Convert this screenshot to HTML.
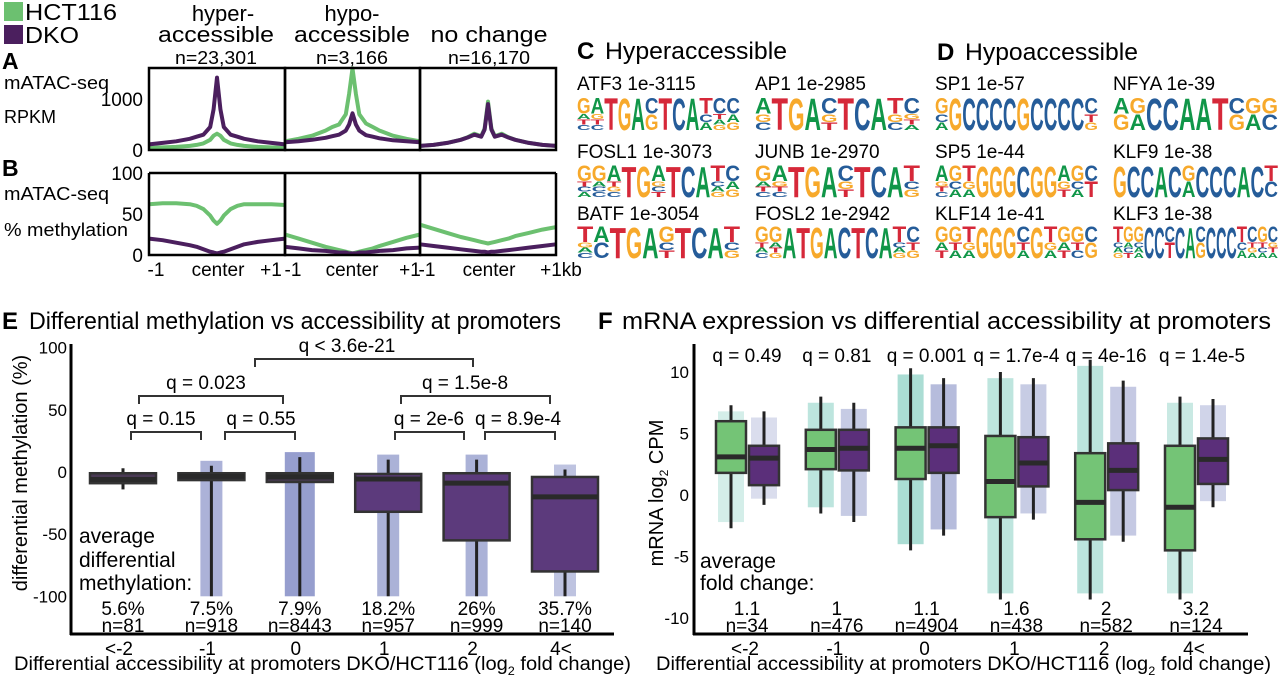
<!DOCTYPE html>
<html><head><meta charset="utf-8"><style>
html,body{margin:0;padding:0;background:#fff;}
svg{display:block;font-family:"Liberation Sans",Arial,sans-serif;}
</style></head><body>
<svg id="fig" width="1280" height="684" viewBox="0 0 1280 684" xmlns="http://www.w3.org/2000/svg">
<g id="static">
  <rect x="4" y="2" width="19" height="19" fill="#6cc070"/>
  <text x="25" y="20" font-size="23" textLength="92" lengthAdjust="spacingAndGlyphs">HCT116</text>
  <rect x="4" y="25" width="19" height="19" fill="#4b1f5e"/>
  <text x="25" y="43" font-size="23" textLength="54" lengthAdjust="spacingAndGlyphs">DKO</text>
  <g font-size="22" text-anchor="middle">
    <text x="223" y="21">hyper-</text>
    <text x="216" y="42" textLength="116" lengthAdjust="spacingAndGlyphs">accessible</text>
    <text x="352" y="21">hypo-</text>
    <text x="352" y="42" textLength="116" lengthAdjust="spacingAndGlyphs">accessible</text>
    <text x="489" y="42" textLength="117" lengthAdjust="spacingAndGlyphs">no change</text>
    <text x="216" y="64" font-size="18" textLength="82" lengthAdjust="spacingAndGlyphs">n=23,301</text>
    <text x="352" y="64" font-size="18" textLength="72" lengthAdjust="spacingAndGlyphs">n=3,166</text>
    <text x="489" y="64" font-size="18" textLength="82" lengthAdjust="spacingAndGlyphs">n=16,170</text>
  </g>
  <text x="2" y="69" font-size="23" font-weight="bold">A</text>
  <text x="4" y="89" font-size="18" textLength="105" lengthAdjust="spacingAndGlyphs">mATAC-seq</text>
  <text x="4" y="123" font-size="18">RPKM</text>
  <text x="2" y="176" font-size="23" font-weight="bold">B</text>
  <text x="4" y="200" font-size="18" textLength="105" lengthAdjust="spacingAndGlyphs">mATAC-seq</text>
  <text x="4" y="236" font-size="18" textLength="124" lengthAdjust="spacingAndGlyphs">% methylation</text>

  <text x="577" y="59" font-size="24" font-weight="bold">C</text>
  <text x="605" y="59" font-size="24" textLength="182" lengthAdjust="spacingAndGlyphs">Hyperaccessible</text>
  <text x="937" y="60" font-size="24" font-weight="bold">D</text>
  <text x="965" y="60" font-size="24" textLength="173" lengthAdjust="spacingAndGlyphs">Hypoaccessible</text>

  <text x="2" y="329" font-size="24" font-weight="bold">E</text>
  <text x="29" y="329" font-size="24" textLength="532" lengthAdjust="spacingAndGlyphs">Differential methylation vs accessibility at promoters</text>
  <text x="598" y="329" font-size="24" font-weight="bold">F</text>
  <text x="622" y="329" font-size="24" textLength="649" lengthAdjust="spacingAndGlyphs">mRNA expression vs differential accessibility at promoters</text>
</g>
<g id="dyn"></g>
</svg>
<script>
// ---------- Panels A/B profile data ----------
const profX = [-1,-0.8,-0.6,-0.4,-0.3,-0.2,-0.1,-0.05,0,0.05,0.1,0.2,0.3,0.4,0.6,0.8,1];
const rpkmHyperDKO = [110,140,170,220,260,300,450,800,1420,800,450,300,260,220,170,140,110];
const rpkmHyperHCT = [40,50,60,80,100,130,200,280,320,280,200,130,100,80,60,50,40];
const rpkmHypoHCT  = [170,220,280,380,450,500,700,1100,1600,1100,700,520,450,380,280,220,170];
const rpkmHypoDKO  = [150,170,200,240,270,300,380,500,720,500,380,290,260,230,190,170,150];
const rpkmNoHCT    = [80,100,140,200,250,320,270,420,950,420,270,320,250,200,140,100,80];
const rpkmNoDKO    = [80,100,140,200,245,300,260,400,900,400,260,300,245,200,140,100,80];
const methHyperHCT = [62,63,63,62,60,56,48,42,38,42,48,56,60,62,62,62,61];
const methHyperDKO = [20,18,15,12,10,7,4,3,2,3,4,7,10,13,16,18,20];
const methHypoHCT  = [25,20,15,10,8,6,4,3,2,3,4,6,8,11,16,21,25];
const methHypoDKO  = [10,8,6,5,4,3,3,2,2,2,3,3,4,5,6,8,9];
const methNoHCT    = [37,32,27,22,20,18,16,15,14,15,16,18,20,23,27,31,34];
const methNoDKO    = [13,11,9,7,6,5,4,4,3,4,4,5,6,7,9,11,13];
const rpkmTicks = [0,1000];
const methTicks = [0,50,100];

// ---------- Panel C/D motifs ----------
const motifNames = ["ATF3 1e-3115","AP1 1e-2985","FOSL1 1e-3073","JUNB 1e-2970","BATF 1e-3054","FOSL2 1e-2942",
                    "SP1 1e-57","NFYA 1e-39","SP5 1e-44","KLF9 1e-38","KLF14 1e-41","KLF3 1e-38"];
const motifCols = [
 ["GATC","AGTC","T","G","A","CG","T","C","A","TCA","CTAG","CAG"],
 ["AGC","T","G","A","CGT","T","C","A","TGC","CGTA"],
 ["GTCA","GACC","ATGC","T","G","AGCT","T","C","A","TCAG","CAG"],
 ["GATC","AGTC","T","G","A","CGT","T","C","A","TCG"],
 ["TGAC","AC","T","G","A","GCT","T","C","A","TCG"],
 ["GTAC","GATG","A","T","G","A","C","T","C","A","TCAG","CTG"],
 ["GCA","G","C","C","C","C","G","C","C","C","C","CTG"],
 ["AG","GA","C","C","A","A","T","CG","GA","GC"],
 ["AGTC","GCA","TGA","G","G","G","C","G","G","AGT","GCA","CT"],
 ["G","C","C","A","C","GA","C","C","C","A","C","TC"],
 ["GAT","GTA","TGA","G","G","G","CTA","G","TGA","GAT","GTC","CG"],
 ["TCAG","GACT","GCAA","C","C","CT","C","A","CG","C","C","C","TCA","CTGA","GTCA","CGTA"]
];
// ---------- Panel E data ----------
const eCats = ["<-2","-1","0","1","2","4<"];
const eQ1 = [-9,-6.5,-8,-32,-55,-80];
const eMed = [-6,-3.5,-4,-5.6,-9,-20];
const eQ3 = [-1,-1,-1,-1.6,-1,-4];
const eLo = [-14,-100,-100,-100,-100,-100];
const eHi = [3,5,12,10,10,2];
const ePct = ["5.6%","7.5%","7.9%","18.2%","26%","35.7%"];
const eN = [81,918,8443,957,999,140];
const eTicks = [100,50,0,-50,-100];
// ---------- Panel F data ----------
const fCats = ["<-2","-1","0","1","2","4<"];
const fHctQ1 = [1.8,2.1,1.3,-1.8,-3.6,-4.5];
const fHctMed = [3.1,3.7,3.8,1.1,-0.6,-1];
const fHctQ3 = [6,5.3,5.5,4.8,3.4,4];
const fHctLo = [-2.7,-1.5,-4.5,-8.5,-8.5,-8.5];
const fHctHi = [7.3,8,10.3,10,11,8];
const fDkoQ1 = [0.8,2,1.8,0.7,0.4,0.9];
const fDkoMed = [3,3.8,4,2.6,2,2.9];
const fDkoQ3 = [4,5.3,5.5,4.7,4.2,4.6];
const fDkoLo = [-0.8,-2.2,-3.3,-2,-3.8,-1];
const fDkoHi = [6.8,7.5,9.5,9.5,9.3,7.8];
const fFold = ["1.1","1","1.1","1.6","2","3.2"];
const fN = [34,476,4904,438,582,124];
const fQ = ["q = 0.49","q = 0.81","q = 0.001","q = 1.7e-4","q = 4e-16","q = 1.4e-5"];
const fTicks = [10,5,0,-5,-10];

const NS="http://www.w3.org/2000/svg";
const root=document.getElementById('dyn');
function mk(tag,attrs,parent,txt){const e=document.createElementNS(NS,tag);for(const k in attrs)e.setAttribute(k,attrs[k]);if(txt!==undefined)e.textContent=txt;(parent||root).appendChild(e);return e;}

// ----- A/B -----
const panels=[[149,285],[285,420],[420,556]];
const aY=v=>150-v*0.051;
const bY=v=>255-v*0.82;
const aSeries=[[rpkmHyperHCT,rpkmHyperDKO],[rpkmHypoHCT,rpkmHypoDKO],[rpkmNoHCT,rpkmNoDKO]];
const bSeries=[[methHyperHCT,methHyperDKO],[methHypoHCT,methHypoDKO],[methNoHCT,methNoDKO]];
const cols=["#6cc070","#4b1f5e"];
const pnames=["hyper","hypo","nochange"];
panels.forEach((p,i)=>{
  const xs=x=>p[0]+(x+1)/2*(p[1]-p[0]);
  [[aSeries,aY,'rpkm'],[bSeries,bY,'meth']].forEach(([ser,sy,nm])=>{
    ser[i].forEach((vals,j)=>{
      const d=vals.map((v,k)=>(k?'L':'M')+xs(profX[k]).toFixed(1)+','+sy(v).toFixed(1)).join('');
      const l=mk('path',{d:d,fill:'none',stroke:cols[j],'stroke-width':4,'stroke-linejoin':'round'});
      
      
    });
  });
  const f1=mk('rect',{x:p[0],y:68,width:p[1]-p[0],height:82,fill:'none',stroke:'#000','stroke-width':2.5});
  
  
  const f2=mk('path',{d:`M${p[0]},173V255H${p[1]}V173`,fill:'none',stroke:'#000','stroke-width':2.5});
  
  
});
mk('line',{x1:149,y1:173,x2:556,y2:173,stroke:'#000','stroke-width':2.5});
rpkmTicks.forEach(t=>{const e=mk('text',{x:143,y:aY(t)+7,'font-size':19,'text-anchor':'end'},null,String(t));
  
  });
methTicks.forEach(t=>{const e=mk('text',{x:143,y:bY(t)+7,'font-size':19,'text-anchor':'end'},null,String(t));
  
  });
[["-1",156],["center",218],["+1",271],["-1",293],["center",352],["+1",410],["-1",427],["center",489],["+1kb",561]].forEach(([t,x],i)=>{
  const e=mk('text',{x:x,y:276,'font-size':19,'text-anchor':'middle'},null,t);
  
  
});

// ----- C/D motifs -----
const baseCol={A:"#109648",C:"#255c99",G:"#f7a92b",T:"#d62839"};
const mColX=[577,755,935,1113];
const mLabY=[90,158,220], mTop=[97,165,226], mBot=[130,197,258];
motifNames.forEach((nm,i)=>{
  const panel=i<6?0:1, k=i%6, c=panel*2+(k%2), r=Math.floor(k/2);
  const x0=mColX[c], w=(c===1||c===3)?165:163;
  const lab=mk('text',{x:x0,y:mLabY[r],'font-size':19},null,nm);
  
  
  const g=mk('g',{});
  
  
  const colsM=motifCols[i], cw=w/colsM.length, H=mBot[r]-mTop[r];
  colsM.forEach((s,j)=>{
    const n=s.length;
    const hs=n===1?[1]:[0.5].concat(Array(n-1).fill(0.5/(n-1)));
    let y=mTop[r];
    for(let q=0;q<n;q++){
      const h=hs[q]*H, L=s[q];
      const t=mk('text',{x:0,y:0,'font-size':10,'font-weight':'bold',textLength:7,lengthAdjust:'spacingAndGlyphs',fill:baseCol[L],
        transform:`translate(${(x0+j*cw).toFixed(1)},${(y+h).toFixed(1)}) scale(${(cw/7).toFixed(3)},${(h/7.3).toFixed(3)})`},g,L);
      y+=h;
    }
  });
});

// ----- E -----
const eY=v=>472-v*1.243;
const eX=i=>123+88.4*i;
mk('line',{x1:71,y1:344,x2:71,y2:635,stroke:'#000','stroke-width':3});
mk('line',{x1:70,y1:634,x2:614,y2:634,stroke:'#000','stroke-width':3});
const eyt=mk('text',{x:0,y:0,'font-size':20,'text-anchor':'middle',transform:'translate(27,473) rotate(-90)'},null,'differential methylation (%)');


eTicks.forEach(t=>{const e=mk('text',{x:67,y:eY(t)+6,'font-size':17,'text-anchor':'end'},null,String(t));
  
  });
eCats.forEach((c,i)=>{
  const x=eX(i);
  const dens=Math.min(0.75,0.12+Math.log10(eN[i])*0.15);
  const bw=i===2?30:22;
  if(i>0){const b=mk('rect',{x:x-bw/2,y:eY(eHi[i]+4),width:bw,height:eY(-100)-eY(eHi[i]+4),fill:'#4655a8',opacity:dens*0.8});
    
    }
  const wl=mk('line',{x1:x,y1:eY(eHi[i]),x2:x,y2:eY(eLo[i]),stroke:'#222','stroke-width':3});
  
  
  const bx=mk('rect',{x:x-33,y:eY(eQ3[i]),width:66,height:eY(eQ1[i])-eY(eQ3[i]),fill:i<3?'#4a3a55':'#5c3a7c',stroke:'#333','stroke-width':2.5});
  
  
  const md=mk('line',{x1:x-33,y1:eY(eMed[i]),x2:x+33,y2:eY(eMed[i]),stroke:'#2a2a2a','stroke-width':5});
  
  
  const p=mk('text',{x:x,y:615,'font-size':19,'text-anchor':'middle'},null,ePct[i]);
  
  
  const n=mk('text',{x:x,y:632,'font-size':19,'text-anchor':'middle'},null,'n='+eN[i]);
  
  
  const tk=mk('text',{x:x-4,y:655,'font-size':19,'text-anchor':'middle'},null,c);
  
  
});
[["average",543],["differential",567],["methylation:",590]].forEach(([t,y],i)=>{
  const e=mk('text',{x:79,y:y,'font-size':21},null,t);
  
  
});
// brackets: [x1,x2,y,label,textX]
[[255,473,359,"q < 3.6e-21",347],[139,283,396,"q = 0.023",206],[131,201,432,"q = 0.15",161],[225,295,432,"q = 0.55",261],
 [401,550,396,"q = 1.5e-8",465],[395,464,432,"q = 2e-6",429],[485,555,432,"q = 8.9e-4",518]].forEach((b,i)=>{
  const p=mk('path',{d:`M${b[0]},${b[2]+8}V${b[2]}H${b[1]}V${b[2]+8}`,fill:'none',stroke:'#333','stroke-width':2});
  
  
  const t=mk('text',{x:b[4],y:b[2]-7,'font-size':19,'text-anchor':'middle'},null,b[3]);
  
  
});
const ext=mk('text',{x:14,y:670,'font-size':19,textLength:617,lengthAdjust:'spacingAndGlyphs'},null,'');
ext.innerHTML='Differential accessibility at promoters DKO/HCT116 (log<tspan font-size="12" dy="5">2</tspan><tspan dy="-5"> fold change)</tspan>';



// ----- F -----
const fY=v=>495-v*12.3;
const fX=i=>747+89.8*i;
mk('line',{x1:694,y1:344,x2:694,y2:635,stroke:'#000','stroke-width':3});
mk('line',{x1:693,y1:634,x2:1248,y2:634,stroke:'#000','stroke-width':3});
const fyt=mk('text',{x:0,y:0,'font-size':20,'text-anchor':'middle',transform:'translate(663,493) rotate(-90)'},null,'');
fyt.innerHTML='mRNA log<tspan font-size="12" dy="5">2</tspan><tspan dy="-5"> CPM</tspan>';


fTicks.forEach(t=>{const e=mk('text',{x:689,y:fY(t)+6,'font-size':17,'text-anchor':'end'},null,String(t));
  
  });
fCats.forEach((c,i)=>{
  const pc=fX(i);
  const dens=Math.min(0.75,0.1+Math.log10(fN[i])*0.14);
  [[pc-16,fHctQ1,fHctMed,fHctQ3,fHctLo,fHctHi,'#74c476','#1aa38a','hct116'],[pc+17,fDkoQ1,fDkoMed,fDkoQ3,fDkoLo,fDkoHi,'#5b2f7a','#3949a0','dko']].forEach(s=>{
    const [x,q1,md,q3,lo,hi,fill,dot,nm]=s;
    const band=mk('rect',{x:x-13,y:fY(hi[i]-0.5),width:26,height:fY(lo[i]+0.5)-fY(hi[i]-0.5),fill:dot,opacity:dens*0.6});
    
    
    const wl=mk('line',{x1:x,y1:fY(hi[i]),x2:x,y2:fY(lo[i]),stroke:'#222','stroke-width':3});
    
    
    const bx=mk('rect',{x:x-15,y:fY(q3[i]),width:30,height:fY(q1[i])-fY(q3[i]),fill:fill,stroke:'#333','stroke-width':2.5});
    
    
    const ml=mk('line',{x1:x-15,y1:fY(md[i]),x2:x+15,y2:fY(md[i]),stroke:'#2a2a2a','stroke-width':5});
    
    
  });
  const q=mk('text',{x:pc+(i===5?6:0),y:362,'font-size':19,'text-anchor':'middle'},null,fQ[i]);
  
  
  const fv=mk('text',{x:pc,y:615,'font-size':19,'text-anchor':'middle'},null,fFold[i]);
  
  
  const n=mk('text',{x:pc,y:632,'font-size':19,'text-anchor':'middle'},null,'n='+fN[i]);
  
  
  const tk=mk('text',{x:pc-2,y:655,'font-size':19,'text-anchor':'middle'},null,c);
  
  
});
[["average",568],["fold change:",590]].forEach(([t,y],i)=>{
  const e=mk('text',{x:700,y:y,'font-size':21},null,t);
  
  
});
const fxt=mk('text',{x:656,y:670,'font-size':19,textLength:615,lengthAdjust:'spacingAndGlyphs'},null,'');
fxt.innerHTML='Differential accessibility at promoters DKO/HCT116 (log<tspan font-size="12" dy="5">2</tspan><tspan dy="-5"> fold change)</tspan>';


</script>
</body></html>
